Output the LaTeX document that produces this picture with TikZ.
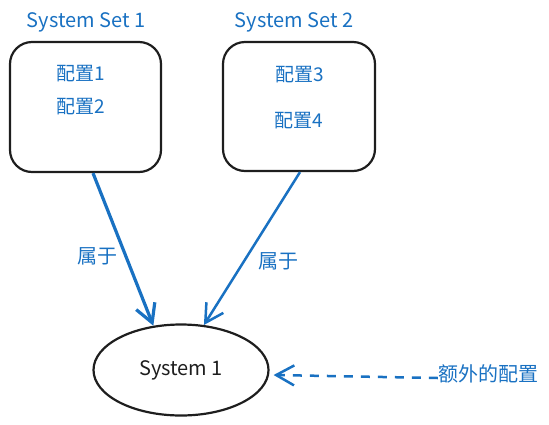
\documentclass[tikz,border=0pt]{standalone}
\usepackage{fontspec}
\setmainfont{Noto Sans CJK SC}
\usetikzlibrary{shapes.geometric,arrows.meta}
\definecolor{exblue}{HTML}{1971C2}
\definecolor{exblack}{HTML}{1E1E1E}
\tikzset{
  setbox/.style={draw=exblack, line width=2.2pt, rounded corners=22pt, fill=none},
  bluetxt/.style={text=exblue, font=\fontsize{19}{22}\selectfont, inner sep=0pt},
  belong/.style={draw=exblue, -{Straight Barb[length=18pt,width=20pt]}},
}
\begin{document}
\begin{tikzpicture}[x=1pt,y=-1pt]
\useasboundingbox (0,0) rectangle (549,424);
\node[setbox, minimum width=151pt, minimum height=130pt] (box1) at (85.5,107) {};
\node[setbox, minimum width=152pt, minimum height=129pt] (box2) at (299,106.5) {};
\node[bluetxt, font=\fontsize{20}{24}\selectfont] (t1) at (86,22) {System Set 1};
\node[bluetxt, font=\fontsize{20}{24}\selectfont] (t2) at (294,22) {System Set 2};
\node[bluetxt] (c1) at (81,74) {配置1};
\node[bluetxt] (c2) at (81,107) {配置2};
\node[bluetxt] (c3) at (300,75) {配置3};
\node[bluetxt] (c4) at (299,121) {配置4};
\node[draw=exblack, line width=2.2pt, ellipse, minimum width=175pt, minimum height=91pt, text=exblack, font=\fontsize{20}{24}\selectfont] (sys) at (181,370) {System 1};
\node[bluetxt, font=\fontsize{20}{24}\selectfont] (l1) at (97,256) {属于};
\node[bluetxt, font=\fontsize{20}{24}\selectfont] (l2) at (278,261) {属于};
\node[bluetxt, font=\fontsize{20}{24}\selectfont] (extra) at (488,374) {额外的配置};
\draw[belong, line width=3.2pt] ([xshift=7.5pt]box1.south) -- (sys.122);
\draw[belong, line width=2.5pt] ([xshift=1pt]box2.south) -- (sys.63);
\draw[draw=exblue, line width=2.5pt, dash pattern=on 9pt off 8pt, -{Straight Barb[length=18pt,width=20pt]}] ([yshift=-4pt]extra.west) -- ([xshift=4pt,yshift=-5pt]sys.east);
\end{tikzpicture}
\end{document}
